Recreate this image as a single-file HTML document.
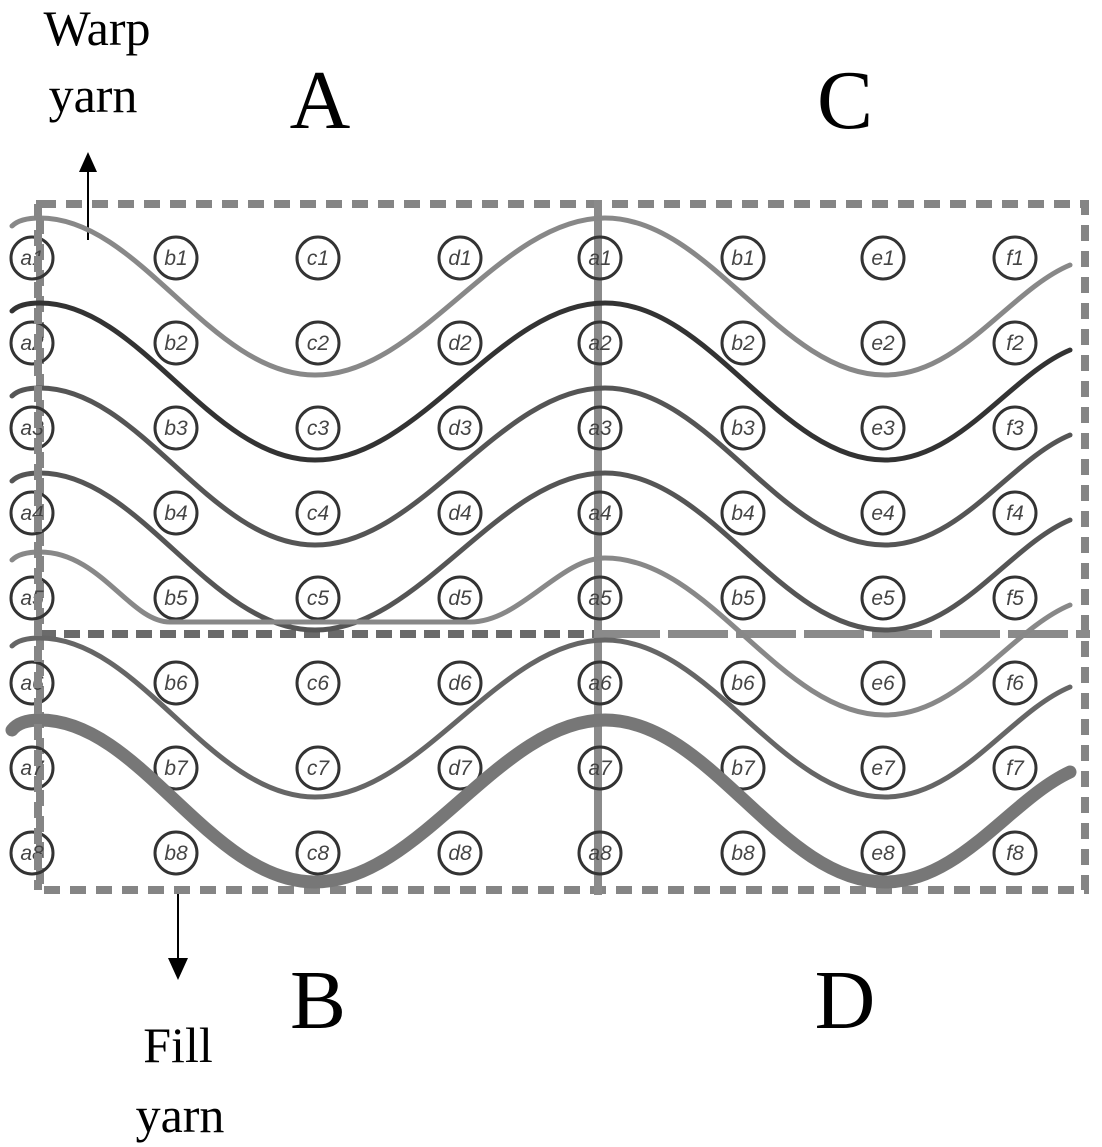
<!DOCTYPE html>
<html><head><meta charset="utf-8"><style>
html,body{margin:0;padding:0;background:#fff;}
svg{display:block;}
</style></head><body>
<svg width="1102" height="1147" viewBox="0 0 1102 1147" xmlns="http://www.w3.org/2000/svg">
<defs>
<g id="row">
<circle cx="32" cy="0" r="21"/><circle cx="176" cy="0" r="21"/><circle cx="318" cy="0" r="21"/><circle cx="460" cy="0" r="21"/><circle cx="600" cy="0" r="21"/><circle cx="743" cy="0" r="21"/><circle cx="883" cy="0" r="21"/><circle cx="1015" cy="0" r="21"/>
</g>
</defs>
<g font-family="Liberation Serif, serif" fill="#000">
<text x="97" y="45" font-size="50" text-anchor="middle">Warp</text>
<text x="93" y="112" font-size="50" text-anchor="middle">yarn</text>
<text x="320" y="128" font-size="84" text-anchor="middle">A</text>
<text x="845" y="128" font-size="84" text-anchor="middle">C</text>
<text x="318" y="1028" font-size="84" text-anchor="middle">B</text>
<text x="845" y="1028" font-size="84" text-anchor="middle">D</text>
<text x="178" y="1062" font-size="50" text-anchor="middle">Fill</text>
<text x="180" y="1132" font-size="50" text-anchor="middle">yarn</text>
</g>
<line x1="88" y1="240" x2="88" y2="170" stroke="#000" stroke-width="2"/>
<polygon points="79,172 97,172 88,152" fill="#000"/>
<line x1="178" y1="890" x2="178" y2="962" stroke="#000" stroke-width="2"/>
<polygon points="168,958 188,958 178,980" fill="#000"/>
<g fill="none" stroke="#858585" stroke-width="8">
<path d="M40,204 H1085 V890 H40 Z" stroke-dasharray="16,10"/>
<line x1="40" y1="634" x2="600" y2="634" stroke="#6a6a6a" stroke-dasharray="16,8"/>
<line x1="600" y1="634" x2="1090" y2="634" stroke="#8a8a8a" stroke-dasharray="60,8"/>
<line x1="598" y1="200" x2="598" y2="895" stroke="#8a8a8a"/>
</g>
<g fill="none" stroke="#333" stroke-width="3">
<use href="#row" y="258"/>
<use href="#row" y="343"/>
<use href="#row" y="428"/>
<use href="#row" y="513"/>
<use href="#row" y="598"/>
<use href="#row" y="683"/>
<use href="#row" y="768"/>
<use href="#row" y="853"/>
</g>
<g font-family="Liberation Sans, sans-serif" font-style="italic" font-size="21" fill="#444" text-anchor="middle">
<text x="32" y="265">a1</text><text x="176" y="265">b1</text><text x="318" y="265">c1</text><text x="460" y="265">d1</text><text x="600" y="265">a1</text><text x="743" y="265">b1</text><text x="883" y="265">e1</text><text x="1015" y="265">f1</text>
<text x="32" y="350">a2</text><text x="176" y="350">b2</text><text x="318" y="350">c2</text><text x="460" y="350">d2</text><text x="600" y="350">a2</text><text x="743" y="350">b2</text><text x="883" y="350">e2</text><text x="1015" y="350">f2</text>
<text x="32" y="435">a3</text><text x="176" y="435">b3</text><text x="318" y="435">c3</text><text x="460" y="435">d3</text><text x="600" y="435">a3</text><text x="743" y="435">b3</text><text x="883" y="435">e3</text><text x="1015" y="435">f3</text>
<text x="32" y="520">a4</text><text x="176" y="520">b4</text><text x="318" y="520">c4</text><text x="460" y="520">d4</text><text x="600" y="520">a4</text><text x="743" y="520">b4</text><text x="883" y="520">e4</text><text x="1015" y="520">f4</text>
<text x="32" y="605">a5</text><text x="176" y="605">b5</text><text x="318" y="605">c5</text><text x="460" y="605">d5</text><text x="600" y="605">a5</text><text x="743" y="605">b5</text><text x="883" y="605">e5</text><text x="1015" y="605">f5</text>
<text x="32" y="690">a6</text><text x="176" y="690">b6</text><text x="318" y="690">c6</text><text x="460" y="690">d6</text><text x="600" y="690">a6</text><text x="743" y="690">b6</text><text x="883" y="690">e6</text><text x="1015" y="690">f6</text>
<text x="32" y="775">a7</text><text x="176" y="775">b7</text><text x="318" y="775">c7</text><text x="460" y="775">d7</text><text x="600" y="775">a7</text><text x="743" y="775">b7</text><text x="883" y="775">e7</text><text x="1015" y="775">f7</text>
<text x="32" y="860">a8</text><text x="176" y="860">b8</text><text x="318" y="860">c8</text><text x="460" y="860">d8</text><text x="600" y="860">a8</text><text x="743" y="860">b8</text><text x="883" y="860">e8</text><text x="1015" y="860">f8</text>
</g>
<g fill="none" stroke-linecap="round">
<path d="M12,226 Q20,218 40,218 C140,218 210,375 315,375 C420,375 500,218 605,218 C710,218 780,375 885,375 C960,375 1010,290 1070,265" stroke="#888" stroke-width="5"/>
<path d="M12,311 Q20,303 40,303 C140,303 210,460 315,460 C420,460 500,303 605,303 C710,303 780,460 885,460 C960,460 1010,375 1070,350" stroke="#333" stroke-width="5"/>
<path d="M12,396 Q20,388 40,388 C140,388 210,545 315,545 C420,545 500,388 605,388 C710,388 780,545 885,545 C960,545 1010,460 1070,435" stroke="#555" stroke-width="5"/>
<path d="M12,481 Q20,473 40,473 C140,473 210,630 315,630 C420,630 500,473 605,473 C710,473 780,630 885,630 C960,630 1010,545 1070,520" stroke="#555" stroke-width="5"/>
<path d="M12,560 Q20,552 40,552 C100,552 130,622 170,622 L470,622 C520,622 560,558 605,558 C710,558 780,715 885,715 C960,715 1010,630 1070,605" stroke="#888" stroke-width="5"/>
<path d="M12,646 Q20,638 40,638 C140,638 210,797 315,797 C420,797 500,640 605,640 C710,640 780,797 885,797 C960,797 1010,712 1070,687" stroke="#666" stroke-width="5"/>
<path d="M12,730 Q20,720 40,720 C140,720 210,882 315,882 C420,882 500,720 605,720 C710,720 780,882 885,882 C960,882 1010,800 1070,772" stroke="#777" stroke-width="13"/>
</g>
<line x1="38" y1="204" x2="38" y2="890" stroke="#858585" stroke-width="8" stroke-dasharray="16,10"/>
</svg>
</body></html>
